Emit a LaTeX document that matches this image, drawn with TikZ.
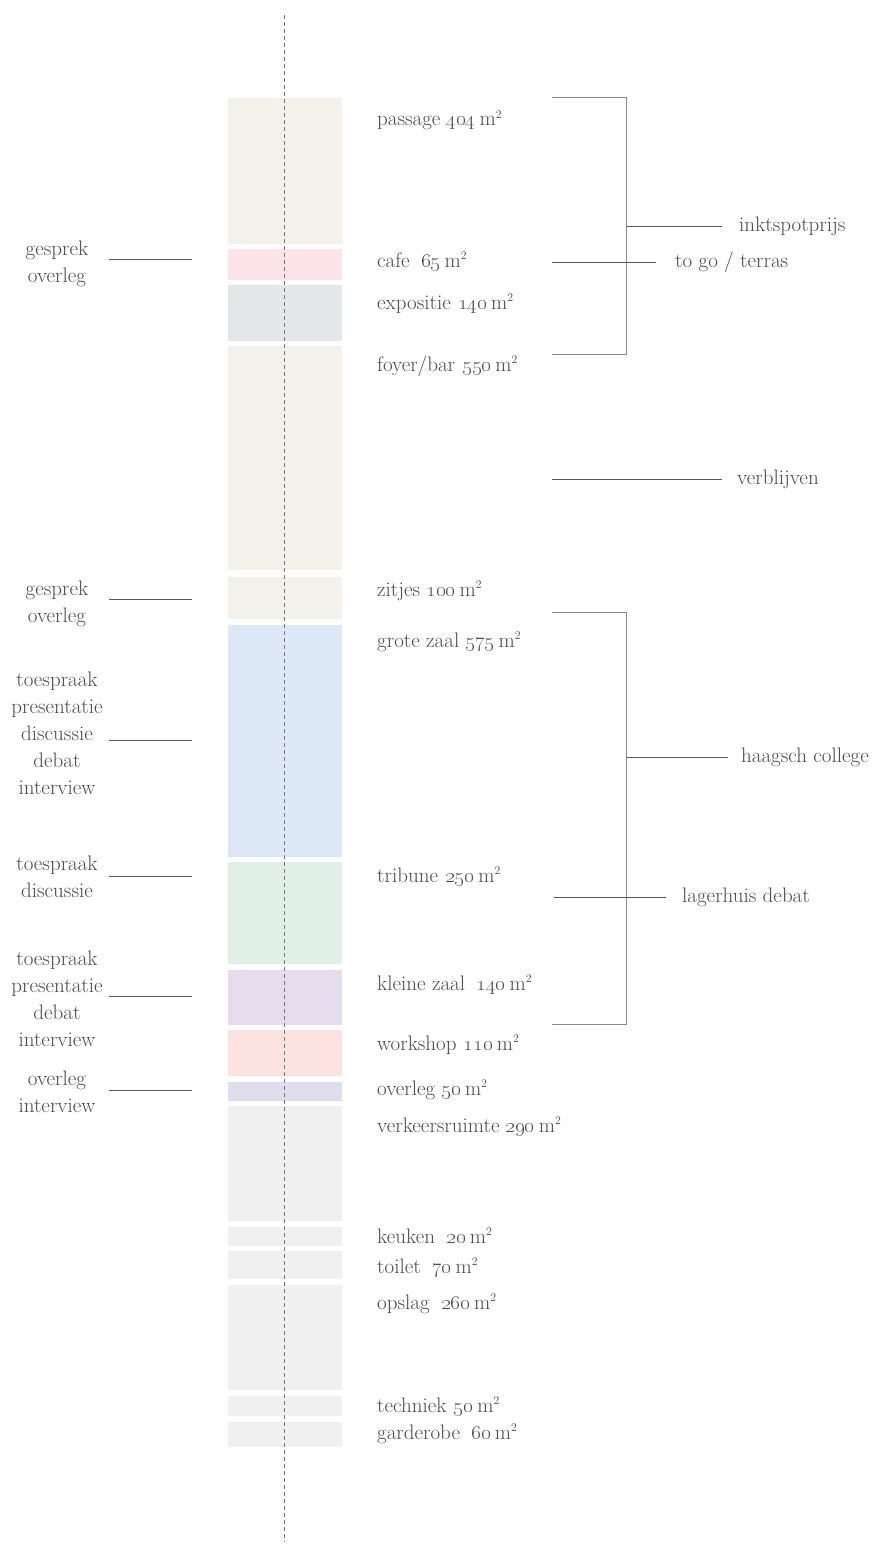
\documentclass[tikz,border=0pt]{standalone}
\usepackage{xcolor}
\definecolor{txt}{HTML}{4A4A4A}
\definecolor{lc}{HTML}{5A5A5A}
\definecolor{bc}{HTML}{8A8A8A}
\definecolor{dc}{HTML}{777777}
\definecolor{beige}{HTML}{F4F0EA}
\definecolor{cafepink}{HTML}{FCE4E8}
\definecolor{expogray}{HTML}{E5E6E8}
\definecolor{zaalblue}{HTML}{DCE8F5}
\definecolor{tribgreen}{HTML}{E0EFE8}
\definecolor{kleinpurple}{HTML}{E7DCEE}
\definecolor{workpink}{HTML}{FCE3E0}
\definecolor{overlav}{HTML}{E0DDEF}
\definecolor{servgray}{HTML}{F0F0F0}
\newcommand{\sqm}[1]{\oldstylenums{#1}\hspace{0.2em}m\textsuperscript{\scalebox{0.8}{2}}}
\newcommand{\wsp}{\hspace{0.55em}}
\begin{document}
\begin{tikzpicture}[x=1pt,y=-1pt,
  lbl/.style={text=txt, font=\fontsize{21}{27}\selectfont, inner sep=0pt},
  rl/.style={lbl, anchor=base west},
  ll/.style={lbl, anchor=base, align=center},
  ln/.style={draw=lc, line width=0.9pt},
  br/.style={draw=bc, line width=0.9pt},
  axis/.style={draw=dc, line width=0.9pt, dash pattern=on 4.3pt off 2.7pt}]
\useasboundingbox (0,0) rectangle (876,1544);
% blocks
\fill[beige] (228,98) rectangle (342,243.7);
\fill[cafepink] (228,249) rectangle (342,279.7);
\fill[expogray] (228,285) rectangle (342,340.7);
\fill[beige] (228,346) rectangle (342,569.5);
\fill[beige] (228,577) rectangle (342,618.7);
\fill[zaalblue] (228,625.3) rectangle (342,856.7);
\fill[tribgreen] (228,862) rectangle (342,963.7);
\fill[kleinpurple] (228,970) rectangle (342,1024.7);
\fill[workpink] (228,1030) rectangle (342,1075.7);
\fill[overlav] (228,1082) rectangle (342,1100.7);
\fill[servgray] (228,1106) rectangle (342,1220.7);
\fill[servgray] (228,1227) rectangle (342,1245.7);
\fill[servgray] (228,1251) rectangle (342,1279);
\fill[servgray] (228,1285) rectangle (342,1389.7);
\fill[servgray] (228,1396) rectangle (342,1415.7);
\fill[servgray] (228,1422) rectangle (342,1446.7);
% axis
\coordinate (axtop) at (284.5,15);
\coordinate (axbot) at (284.5,1542);
\draw[axis] (axtop) -- (axbot);
% right labels
\node[rl] (passage) at (377,126) {passage\hspace{0.3em}\sqm{404}};
\node[rl] (cafe) at (377,267) {cafe\wsp\sqm{65}};
\node[rl] (expo) at (377,309) {expositie\hspace{0.35em}\sqm{140}};
\node[rl] (foyer) at (377,371) {foyer/bar\hspace{0.35em}\sqm{550}};
\node[rl] (zitjes) at (377,596) {zitjes\hspace{0.3em}\sqm{100}};
\node[rl] (grote) at (377,647) {grote zaal\hspace{0.3em}\sqm{575}};
\node[rl] (tribune) at (377,882) {tribune\hspace{0.35em}\sqm{250}};
\node[rl] (kleine) at (377,990) {kleine zaal\wsp\sqm{140}};
\node[rl] (workshop) at (377,1050) {workshop\hspace{0.35em}\sqm{110}};
\node[rl] (overlegr) at (377,1095) {overleg\hspace{0.3em}\sqm{50}};
\node[rl] (verkeer) at (377,1132) {verkeersruimte\hspace{0.3em}\sqm{290}};
\node[rl] (keuken) at (377,1243) {keuken\wsp\sqm{20}};
\node[rl] (toilet) at (377,1273) {toilet\wsp\sqm{70}};
\node[rl] (opslag) at (377,1309) {opslag\wsp\sqm{260}};
\node[rl] (techniek) at (377,1412) {techniek\hspace{0.35em}\sqm{50}};
\node[rl] (garderobe) at (377,1439) {garderobe\wsp\sqm{60}};
% bracket labels
\node[rl] (inkt) at (739,231) {inktspotprijs};
\node[rl] (togo) at (675,267) {to go / terras};
\node[rl] (verbl) at (737,484) {verblijven};
\node[rl] (haagsch) at (741,762) {haagsch college};
\node[rl] (lager) at (682,902) {lagerhuis debat};
% bracket 1
\coordinate (b1t) at (552,97.5);
\coordinate (b1b) at (552,354.5);
\coordinate (b1m) at (626.5,226.5);
\draw[br] (b1t) -| (b1m) |- (b1b);
\draw[ln] (b1m) -- (722,226.5);
\draw[ln] (552,262.5) -- (656,262.5);
\draw[ln] (552,479.5) -- (722,479.5);
% bracket 2
\coordinate (b2t) at (552,612.5);
\coordinate (b2b) at (552,1024.5);
\coordinate (b2m) at (626.5,757.5);
\draw[br] (b2t) -| (b2m) |- (b2b);
\draw[ln] (b2m) -- (728,757.5);
\draw[ln] (554,897.5) -- (666,897.5);
% left labels (anchor = baseline of last line)
\node[ll] (g1) at (57,282) {gesprek\\overleg};
\node[ll] (g2) at (57,622.5) {gesprek\\overleg};
\node[ll] (t1) at (57,794.5) {toespraak\\presentatie\\discussie\\debat\\interview};
\node[ll] (t2) at (57,897) {toespraak\\discussie};
\node[ll] (t3) at (57,1046) {toespraak\\presentatie\\debat\\interview};
\node[ll] (o1) at (57,1112.5) {overleg\\interview};
\draw[ln] (109,259.5) -- (192,259.5);
\draw[ln] (109,599.5) -- (192,599.5);
\draw[ln] (109,740.5) -- (192,740.5);
\draw[ln] (109,876.5) -- (192,876.5);
\draw[ln] (109,996.5) -- (192,996.5);
\draw[ln] (109,1090.5) -- (192,1090.5);
\end{tikzpicture}
\end{document}
